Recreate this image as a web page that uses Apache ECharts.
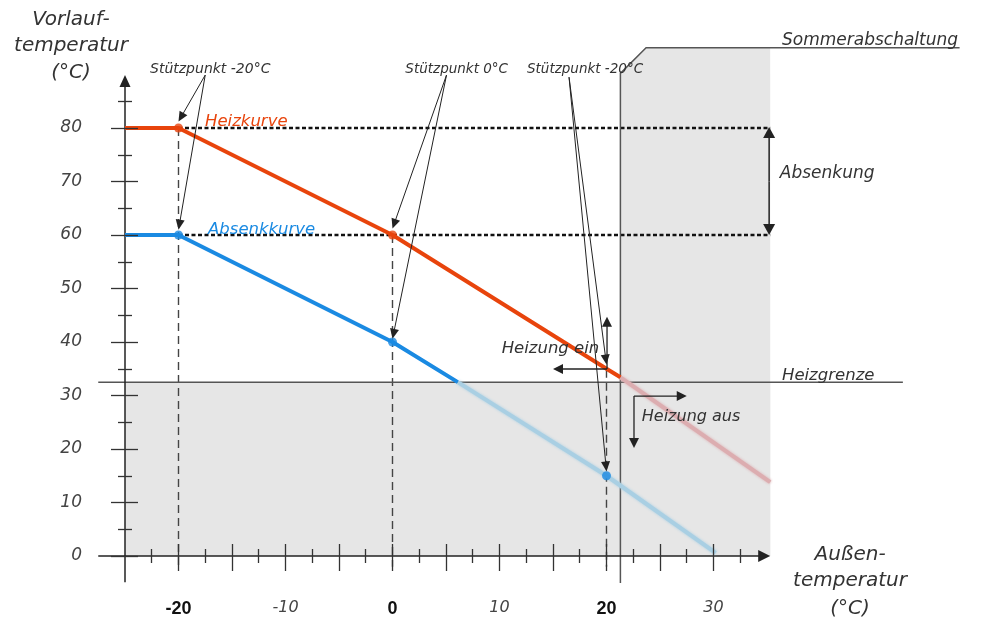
<!DOCTYPE html>
<html>
<head>
<meta charset="utf-8">
<title>Heizkurve</title>
<script src="https://cdn.jsdelivr.net/npm/echarts@6/dist/echarts.min.js"></script>
<style>
html, body { margin: 0; padding: 0; background: #fff; }
#chart { width: 982px; height: 618px; }
</style>
</head>
<body>
<div id="chart"></div>
<script>
// Heizkurve (rot) und Absenkkurve (blau): Außentemperatur -> Vorlauftemperatur
const heizX = [-25, -20, 0, 20, 21.3];
const heizY = [80, 80, 60, 35, 33.4];
const heizAusX = [21.3, 35.3];
const heizAusY = [33.4, 13.8];
const absenkX = [-25, -20, 0, 6.1];
const absenkY = [60, 60, 40, 32.5];
const absenkAusX = [6.1, 20, 30.2];
const absenkAusY = [32.5, 15, 0.6];

// Stützpunkte
const heizPunktX = [-20, 0];
const heizPunktY = [80, 60];
const absenkPunktX = [-20, 0, 20];
const absenkPunktY = [60, 40, 15];

const heizgrenze = 32.5;     // Vorlauf
const sommerGrenze = 21.3;   // Außen

// Achsen
const xMajorTicks = [-20, -15, -10, -5, 0, 5, 10, 15, 20, 25, 30];
const xMinorTicks = [-22.5, -17.5, -12.5, -7.5, -2.5, 2.5, 7.5, 12.5, 17.5, 22.5, 27.5, 32.5];
const xLabels = [-20, -10, 0, 10, 20, 30];
const yMajorTicks = [0, 10, 20, 30, 40, 50, 60, 70, 80];
const yMinorTicks = [5, 15, 25, 35, 45, 55, 65, 75, 85];

const X_MIN = -25, X_MAX = 35.3, Y_MIN = 0, Y_MAX = 95;
const FONT = '"DejaVu Sans", sans-serif';
const DARK = '#333';

const zip = (xs, ys) => xs.map((x, i) => [x, ys[i]]);

function xAchse(inside, len, ticks, withLabels) {
	return {
		type: 'value', min: X_MIN, max: X_MAX, position: 'bottom', z: 10,
		axisLine: { show: false, onZero: false },
		splitLine: { show: false },
		axisTick: { show: true, inside: inside, length: len, customValues: ticks, lineStyle: { color: DARK, width: 1.3 } },
		axisLabel: withLabels ? {
			customValues: xLabels,
			margin: 44,
			formatter: (v) => (v % 20 === 0 ? '{b|' + v + '}' : '{i|' + v + '}'),
			rich: {
				b: { fontFamily: '"Liberation Sans", sans-serif', fontWeight: 'bold', fontSize: 18, color: '#111' },
				i: { fontFamily: FONT, fontStyle: 'italic', fontSize: 16, color: '#444' }
			}
		} : { show: false }
	}
}

function yAchse(inside, len, ticks, withLabels) {
	return {
		type: 'value', min: Y_MIN, max: Y_MAX, position: 'left', z: 10,
		axisLine: { show: false, onZero: false },
		splitLine: { show: false },
		axisTick: { show: true, inside: inside, length: len, customValues: ticks, lineStyle: { color: DARK, width: 1.3 } },
		axisLabel: withLabels ? {
			customValues: yMajorTicks,
			margin: 43,
			fontFamily: FONT, fontStyle: 'italic', fontSize: 17, color: '#444'
		} : { show: false }
	}
}

function linie(api, pts, stroke, width, dash) {
	return {
		type: 'polyline',
		shape: { points: pts.map(p => api.coord(p)) },
		style: { stroke: stroke, lineWidth: width, lineDash: dash || null, fill: null }
	}
}

function pfeil(api, from, to, len, half, color, width) {
	const a = api.coord(from), b = api.coord(to);
	const dx = b[0] - a[0], dy = b[1] - a[1], d = Math.hypot(dx, dy);
	const ux = dx / d, uy = dy / d;
	const bx = b[0] - ux * len, by = b[1] - uy * len;
	return [
		{ type: 'line', shape: { x1: a[0], y1: a[1], x2: bx + ux, y2: by + uy }, style: { stroke: color, lineWidth: width } },
		{ type: 'polygon', shape: { points: [[b[0], b[1]], [bx - uy * half, by + ux * half], [bx + uy * half, by - ux * half]] }, style: { fill: color } }
	]
}

function text(api, p, str, opts) {
	const c = api.coord(p);
	return {
		type: 'text', x: c[0], y: c[1],
		style: {
			text: str, fill: opts.color || DARK,
			font: 'italic ' + (opts.size || 16.5) + 'px ' + FONT,
			align: opts.align || 'left', verticalAlign: 'middle'
		}
	}
}

// graue Flächen (Heizung aus)
function renderFlaechen(params, api) {
	const poly = pts => ({ type: 'polygon', shape: { points: pts.map(p => api.coord(p)) }, style: { fill: '#e6e6e6' } });
	return {
		type: 'group',
		children: [
			poly([[X_MIN, 0], [X_MIN, heizgrenze], [X_MAX, heizgrenze], [X_MAX, 0]]),
			poly([[sommerGrenze, 0], [sommerGrenze, 90.2], [23.7, 95], [X_MAX, 95], [X_MAX, 0]])
		]
	}
}

// Hilfslinien
function renderHilfslinien(params, api) {
	return {
		type: 'group',
		children: [
			linie(api, [[-20, 80], [X_MAX, 80]], '#111', 2.5, [4, 2.5]),
			linie(api, [[-20, 60], [X_MAX, 60]], '#111', 2.5, [4, 2.5]),
			linie(api, [[-20, 80], [-20, -2]], '#444', 1.4, [8, 5]),
			linie(api, [[0, 60], [0, -2]], '#444', 1.4, [8, 5]),
			linie(api, [[20, 34.8], [20, -2]], '#444', 1.4, [8, 5]),
			linie(api, [[-27.5, heizgrenze], [47.7, heizgrenze]], '#555', 1.5),
			linie(api, [[sommerGrenze, -5.05], [sommerGrenze, 90.2], [23.7, 95], [53, 95]], '#555', 1.5),
			...pfeil(api, [-27.5, 0], [X_MAX, 0], 12, 6, '#222', 1.5),
			...pfeil(api, [-25, -4.9], [-25, 89.9], 12, 5.5, '#222', 1.5)
		]
	}
}

// Pfeile und Beschriftungen
function renderBeschriftung(params, api) {
	const k = '#222';
	const ch = [];
	// Stützpunkte
	ch.push(...pfeil(api, [-17.5, 89.9], [-20, 81.2], 10, 4.5, k, 1));
	ch.push(...pfeil(api, [-17.5, 89.9], [-20, 61.0], 10, 4.5, k, 1));
	ch.push(...pfeil(api, [5.05, 89.9], [0, 61.2], 10, 4.5, k, 1));
	ch.push(...pfeil(api, [5.05, 89.9], [0, 40.6], 10, 4.5, k, 1));
	ch.push(...pfeil(api, [16.5, 89.5], [20, 35.8], 10, 4.5, k, 1));
	ch.push(...pfeil(api, [16.5, 89.5], [20, 15.8], 10, 4.5, k, 1));
	// Absenkung
	ch.push(...pfeil(api, [35.2, 70], [35.2, 80.2], 11, 6, k, 1.5));
	ch.push(...pfeil(api, [35.2, 70], [35.2, 60], 11, 6, k, 1.5));
	// Heizung ein / aus
	ch.push(...pfeil(api, [20.05, 34.95], [20.05, 44.7], 10, 5, k, 1.3));
	ch.push(...pfeil(api, [20.05, 34.95], [15.0, 34.95], 10, 5, k, 1.3));
	ch.push(...pfeil(api, [22.57, 29.9], [22.57, 20.2], 10, 5, k, 1.3));
	ch.push(...pfeil(api, [22.57, 29.9], [27.5, 29.9], 10, 5, k, 1.3));

	ch.push(text(api, [-22.66, 90.9], 'Stützpunkt -20°C', { size: 14 }));
	ch.push(text(api, [1.2, 90.9], 'Stützpunkt 0°C', { size: 13.5 }));
	ch.push(text(api, [12.57, 90.9], 'Stützpunkt -20°C', { size: 13.5 }));
	ch.push(text(api, [-17.52, 81.2], 'Heizkurve', { color: '#e8440c' }));
	ch.push(text(api, [-17.24, 61.0], 'Absenkkurve', { color: '#1a8ae2' }));
	ch.push(text(api, [36.4, 96.26], 'Sommerabschaltung', { size: 17 }));
	ch.push(text(api, [36.2, 71.4], 'Absenkung', { size: 17 }));
	ch.push(text(api, [36.4, 33.74], 'Heizgrenze', { size: 16.5 }));
	ch.push(text(api, [10.2, 38.7], 'Heizung ein', { size: 16.5 }));
	ch.push(text(api, [23.3, 26.0], 'Heizung aus', { size: 16 }));

	// Achsentitel
	ch.push(text(api, [-30.05, 100.2], 'Vorlauf-', { size: 20, align: 'center' }));
	ch.push(text(api, [-30.05, 95.3], 'temperatur', { size: 20, align: 'center' }));
	ch.push(text(api, [-30.05, 90.3], '(°C)', { size: 20, align: 'center' }));
	ch.push(text(api, [42.76, 0.19], 'Außen-', { size: 20, align: 'center' }));
	ch.push(text(api, [42.76, -4.67], 'temperatur', { size: 20, align: 'center' }));
	ch.push(text(api, [42.76, -9.9], '(°C)', { size: 20, align: 'center' }));
	return { type: 'group', children: ch };
}

const option = {
	animation: false,
	grid: { left: 125, right: 211.8, top: 47.75, bottom: 62 },
	xAxis: [
		xAchse(false, 15, xMajorTicks, true),
		xAchse(true, 12, xMajorTicks, false),
		xAchse(false, 7, xMinorTicks, false),
		xAchse(true, 7, xMinorTicks, false)
	],
	yAxis: [
		yAchse(false, 14, yMajorTicks, true),
		yAchse(true, 13, yMajorTicks, false),
		yAchse(false, 7, yMinorTicks, false),
		yAchse(true, 7, yMinorTicks, false)
	],
	series: [
		{ type: 'custom', name: 'Flächen', silent: true, z: 1, clip: false, data: [[0, 0]], renderItem: renderFlaechen },
		{ type: 'custom', name: 'Hilfslinien', silent: true, z: 2, clip: false, data: [[0, 0]], renderItem: renderHilfslinien },
		{
			type: 'line', name: 'Heizkurve (aus)', silent: true, z: 3, showSymbol: false,
			data: zip(heizAusX, heizAusY),
			lineStyle: { color: '#dcadb0', width: 4, shadowBlur: 3, shadowColor: '#dcadb0' }
		},
		{
			type: 'line', name: 'Absenkkurve (aus)', silent: true, z: 3, showSymbol: false,
			data: zip(absenkAusX, absenkAusY),
			lineStyle: { color: '#a9cfe3', width: 4, shadowBlur: 3, shadowColor: '#a9cfe3' }
		},
		{
			type: 'line', name: 'Heizkurve', silent: true, z: 4, showSymbol: false,
			data: zip(heizX, heizY),
			lineStyle: { color: '#e8440c', width: 4 }
		},
		{
			type: 'line', name: 'Absenkkurve', silent: true, z: 4, showSymbol: false,
			data: zip(absenkX, absenkY),
			lineStyle: { color: '#1a8ae2', width: 4 }
		},
		{
			type: 'scatter', name: 'Stützpunkte Heizkurve', silent: true, z: 5, symbolSize: 9,
			data: zip(heizPunktX, heizPunktY), itemStyle: { color: '#e8440c' }
		},
		{
			type: 'scatter', name: 'Stützpunkte Absenkkurve', silent: true, z: 5, symbolSize: 9,
			data: zip(absenkPunktX, absenkPunktY), itemStyle: { color: '#1a8ae2' }
		},
		{ type: 'custom', name: 'Beschriftung', silent: true, z: 6, clip: false, data: [[0, 0]], renderItem: renderBeschriftung }
	]
}

const chart = echarts.init(document.getElementById('chart'))
chart.setOption(option, true)
</script>
</body>
</html>
